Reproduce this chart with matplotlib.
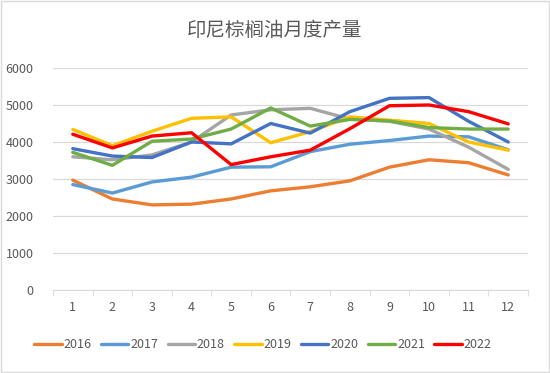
import matplotlib
matplotlib.use("Agg")
import matplotlib.pyplot as plt
from matplotlib.patches import Rectangle

plt.rcParams['font.family'] = ['Noto Sans CJK SC', 'DejaVu Sans']

months = list(range(1, 13))
month_labels = [str(m) for m in months]
years = ["2016", "2017", "2018", "2019", "2020", "2021", "2022"]

y2016 = [2970, 2460, 2300, 2320, 2460, 2680, 2790, 2950, 3320, 3520, 3440, 3110]
y2017 = [2850, 2620, 2920, 3050, 3320, 3330, 3740, 3940, 4040, 4160, 4140, 3790]
y2018 = [3600, 3520, 3650, 4000, 4730, 4870, 4910, 4620, 4560, 4350, 3860, 3260]
y2019 = [4340, 3900, 4290, 4640, 4680, 3980, 4280, 4680, 4590, 4500, 4000, 3780]
y2020 = [3820, 3620, 3580, 4000, 3950, 4500, 4240, 4820, 5180, 5200, 4560, 4000]
y2021 = [3720, 3370, 4020, 4080, 4350, 4920, 4430, 4610, 4570, 4390, 4350, 4350]
y2022 = [4210, 3840, 4160, 4250, 3390, 3600, 3780, 4360, 4980, 5000, 4820, 4490]

series = [y2016, y2017, y2018, y2019, y2020, y2021, y2022]
colors = ["#ED7D31", "#5B9BD5", "#A5A5A5", "#FFC000", "#4472C4", "#70AD47", "#FF0000"]

fig = plt.figure(figsize=(5.5, 3.73), dpi=100)
ax = fig.add_axes([53/550, 1-290/373, (528-53)/550, (290-68)/373])

for name, vals, c in zip(years, series, colors):
    ax.plot(months, vals, color=c, lw=2.4, label=name, solid_capstyle='round', solid_joinstyle='round')

ax.set_xlim(0.5, 12.5)
ax.set_ylim(0, 6000)
ax.set_yticks(range(0, 6001, 1000))
ax.yaxis.grid(True, color="#D9D9D9", lw=0.9)
ax.set_axisbelow(True)
ax.set_xticks(months)
ax.set_xticklabels(month_labels)
ax.set_xticks([m + 0.5 for m in range(0, 13)], minor=True)
ax.tick_params(axis='x', which='major', length=0, pad=8, labelsize=9, colors="#595959")
ax.tick_params(axis='x', which='minor', length=4, color="#D9D9D9", direction='out')
ax.tick_params(axis='y', length=0, labelsize=9, colors="#595959", pad=14)
for s in ['top', 'right', 'left']:
    ax.spines[s].set_visible(False)
ax.spines['bottom'].set_color("#D9D9D9")

fig.text(0.5, 1-31/373, "印尼棕榈油月度产量", ha='center', va='center', fontsize=14, color="#595959")

leg = fig.legend(loc='center', bbox_to_anchor=(263/550, 1-345/373), ncol=7, frameon=False,
                 fontsize=9, handlelength=2.2, handletextpad=0.15, columnspacing=0.75)
for t in leg.get_texts():
    t.set_color("#595959")

fig.patches.append(Rectangle((0.002, 0.002), 0.996, 0.996, transform=fig.transFigure,
                             fill=False, edgecolor="#D9D9D9", lw=1))

fig.savefig("out.png", dpi=100)
